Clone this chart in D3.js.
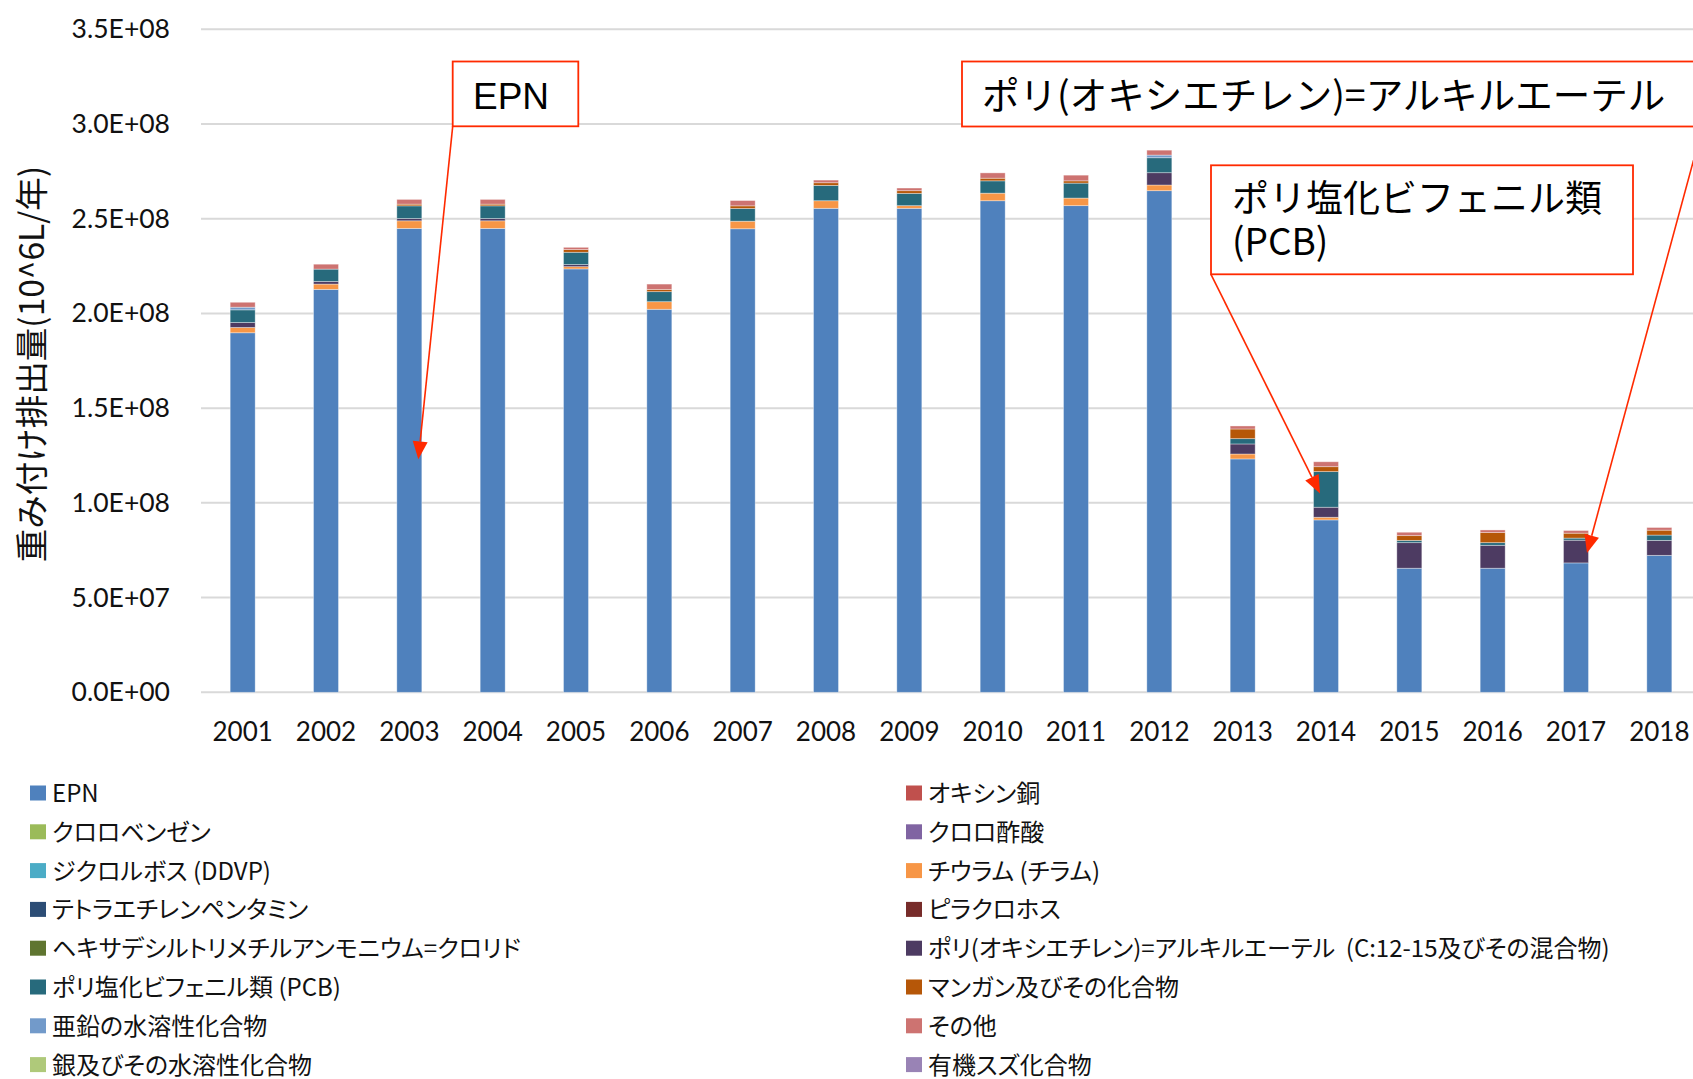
<!DOCTYPE html>
<html><head><meta charset="utf-8">
<script src="https://cdn.jsdelivr.net/npm/d3@7"></script>
<style>
html,body{margin:0;padding:0;background:#fff;overflow:hidden}
svg{display:block}
</style></head><body>
<svg id="chart" width="1693" height="1079"></svg>
<script>
// ---------------- DATA ----------------
const years = [2001,2002,2003,2004,2005,2006,2007,2008,2009,2010,2011,2012,2013,2014,2015,2016,2017,2018];
const tickValues = [0, 5e7, 1e8, 1.5e8, 2e8, 2.5e8, 3e8, 3.5e8];
const tickLabels = ["0.0E+00","5.0E+07","1.0E+08","1.5E+08","2.0E+08","2.5E+08","3.0E+08","3.5E+08"];
const yAxisTitle = "重み付け排出量(10^6L/年)";

const seriesNames = [
  "EPN","オキシン銅","クロロベンゼン","クロロ酢酸","ジクロルボス (DDVP)","チウラム (チラム)",
  "テトラエチレンペンタミン","ピラクロホス","ヘキサデシルトリメチルアンモニウム=クロリド",
  "ポリ(オキシエチレン)=アルキルエーテル  (C:12-15及びその混合物)","ポリ塩化ビフェニル類 (PCB)",
  "マンガン及びその化合物","亜鉛の水溶性化合物","その他","銀及びその水溶性化合物","有機スズ化合物"
];
const seriesColors = [
  "#4F81BD","#C0504D","#9BBB59","#8064A2","#4BACC6","#F79646",
  "#2C4D75","#772C2A","#5F7530","#4D3B62","#276A7C",
  "#B65708","#729ACA","#CD7371","#AFC97A","#9983B5"
];

// values in units of 1E+08 (10^6 L / year)
const epn            = [1.898,2.127,2.449,2.449,2.235,2.022,2.447,2.555,2.555,2.595,2.569,2.648,1.232,0.910,0.655,0.655,0.683,0.723];
const oxineCopper    = [0,0,0,0,0,0,0,0,0,0,0,0,0,0,0,0,0,0];
const chlorobenzene  = [0,0,0,0,0,0,0,0,0,0,0,0,0,0,0,0,0,0];
const chloroacetic   = [0,0,0,0,0,0,0,0,0,0,0,0,0,0,0,0,0,0];
const dichlorvos     = [0,0,0,0,0,0,0,0,0,0,0,0,0,0,0,0,0,0];
const thiuram        = [0.028,0.028,0.040,0.040,0.012,0.040,0.040,0.040,0.014,0.040,0.040,0.030,0.026,0.014,0,0,0,0];
const tetraethylene  = [0,0,0,0,0,0,0,0,0,0,0,0,0,0,0,0,0,0];
const pyraclofos     = [0,0,0,0,0,0,0,0,0,0,0,0,0,0,0,0,0,0];
const hexadecyl      = [0,0,0,0,0,0,0,0,0,0,0,0,0,0,0,0,0,0];
const polyOxyEther   = [0.026,0.014,0.012,0.012,0.011,0,0,0,0,0,0,0.065,0.053,0.053,0.135,0.121,0.120,0.079];
const pcb            = [0.067,0.065,0.067,0.067,0.065,0.053,0.067,0.081,0.065,0.065,0.079,0.079,0.028,0.188,0.012,0.014,0.011,0.028];
const manganese      = [0,0,0.009,0.009,0.014,0.012,0.014,0.014,0.014,0.014,0.012,0,0.051,0.026,0.025,0.053,0.026,0.026];
const zinc           = [0.014,0,0,0,0,0,0,0,0,0,0,0.014,0,0,0,0,0,0];
const others         = [0.026,0.026,0.025,0.025,0.012,0.028,0.028,0.014,0.014,0.028,0.030,0.026,0.016,0.026,0.018,0.014,0.014,0.014];
const silver         = [0,0,0,0,0,0,0,0,0,0,0,0,0,0,0,0,0,0];
const organotin      = [0,0,0,0,0,0,0,0,0,0,0,0,0,0,0,0,0,0];

const seriesValues = [epn,oxineCopper,chlorobenzene,chloroacetic,dichlorvos,thiuram,tetraethylene,
  pyraclofos,hexadecyl,polyOxyEther,pcb,manganese,zinc,others,silver,organotin];

// annotations: label lines, target year and value the arrow points to
const annotations = [
  {lines:["EPN"], year:2003, value:1.23e8, dx:9},
  {lines:["ポリ(オキシエチレン)=アルキルエーテル"], year:2017, value:0.735e8, dx:11},
  {lines:["ポリ塩化ビフェニル類","(PCB)"], year:2014, value:1.05e8, dx:-6}
];

// ---------------- LAYOUT ----------------
const svg = d3.select("#chart");
const plotLeft = 201, plotRight = 1701, plotTop = 29.3, plotBottom = 692.3;

const rows = years.map((yr, i) => {
  const r = {year: yr};
  seriesNames.forEach((n, k) => r[n] = seriesValues[k][i] * 1e8);
  return r;
});
const stacked = d3.stack().keys(seriesNames)(rows);

const x = d3.scaleBand().domain(years).range([plotLeft, plotRight]).paddingInner(0.7).paddingOuter(0.35);
const y = d3.scaleLinear().domain([0, 3.5e8]).range([plotBottom, plotTop]);
const color = d3.scaleOrdinal().domain(seriesNames).range(seriesColors);

// gridlines
svg.append("g").selectAll("line").data(tickValues).join("line")
  .attr("x1", plotLeft).attr("x2", 1693)
  .attr("y1", d => y(d)).attr("y2", d => y(d))
  .attr("stroke", "#d9d9d9").attr("stroke-width", 2);

// y axis labels
const yAxis = svg.append("g").attr("transform", `translate(${plotLeft},0)`)
  .call(d3.axisLeft(y).tickValues(tickValues).tickFormat((d, i) => tickLabels[i]).tickSize(0).tickPadding(31));
yAxis.select(".domain").remove();
yAxis.selectAll("text").attr("font-family", "Lato, 'Open Sans', sans-serif").attr("font-size", 26.5).attr("fill", "#111");

// x axis labels
const xAxis = svg.append("g").attr("transform", `translate(0,${plotBottom})`)
  .call(d3.axisBottom(x).tickSize(0).tickPadding(30));
xAxis.select(".domain").remove();
xAxis.selectAll("text").attr("font-family", "Lato, 'Open Sans', sans-serif").attr("font-size", 26).attr("fill", "#111");

// bars
svg.append("g").selectAll("g").data(stacked).join("g")
  .attr("fill", d => color(d.key))
  .selectAll("rect").data(d => d.filter(s => s[1] - s[0] > 0)).join("rect")
  .attr("x", d => x(d.data.year))
  .attr("width", x.bandwidth())
  .attr("y", d => y(d[1]))
  .attr("height", d => y(d[0]) - y(d[1]))
  .attr("stroke", "#ffffff").attr("stroke-opacity", 0.45).attr("stroke-width", 0.8);

// y axis title
svg.append("text")
  .attr("transform", "translate(44,364) rotate(-90)")
  .attr("text-anchor", "middle")
  .attr("font-family", "'Noto Sans CJK JP', sans-serif")
  .attr("font-size", 33.5).attr("fill", "#111")
  .text(yAxisTitle);

// legend
const legend = svg.append("g");
const legItems = legend.selectAll("g").data(seriesNames).join("g")
  .attr("transform", (d, i) => `translate(${i % 2 === 0 ? 30 : 906},${793 + Math.floor(i / 2) * 38.8})`);
legItems.append("rect").attr("x", 0).attr("y", -7.5).attr("width", 16).attr("height", 15)
  .attr("fill", d => color(d));
legItems.append("text").attr("x", 22).attr("y", -1.5)
  .attr("dominant-baseline", "central")
  .attr("font-family", "'Noto Sans CJK JP', sans-serif")
  .attr("font-size", 24).attr("fill", "#111")
  .style("font-feature-settings", "'palt'")
  .style("white-space", "pre")
  .text(d => d);

// annotations
const red = "#ff2a00";
const boxes = [
  {x:452.7, y:61.5, w:125.6, h:64.8, tx:473, ty:[108.5], font:"'Liberation Sans', Arial, sans-serif", anchor:[452.7,126.3]},
  {x:962, y:61.5, w:760, h:65, tx:982, ty:[108.5], font:"'Noto Sans CJK JP', sans-serif", anchor:[1702.7,126.5]},
  {x:1211, y:165.3, w:422, h:109, tx:1232, ty:[211.5, 255], font:"'Noto Sans CJK JP', sans-serif", anchor:[1211,274.3]}
];
const ann = svg.append("g");
annotations.forEach((a, i) => {
  const b = boxes[i];
  const tipX = x(a.year) + x.bandwidth() / 2 + a.dx, tipY = y(a.value);
  const [sx, sy] = b.anchor;
  const ang = Math.atan2(tipY - sy, tipX - sx);
  const L = 18, W = 7.5;
  const bx = tipX - L * Math.cos(ang), by = tipY - L * Math.sin(ang);
  ann.append("line").attr("x1", sx).attr("y1", sy).attr("x2", bx).attr("y2", by)
    .attr("stroke", red).attr("stroke-width", 1.6);
  ann.append("polygon")
    .attr("points", [[tipX, tipY],
      [bx + W * Math.sin(ang), by - W * Math.cos(ang)],
      [bx - W * Math.sin(ang), by + W * Math.cos(ang)]].map(p => p.join(",")).join(" "))
    .attr("fill", red);
  ann.append("rect").attr("x", b.x).attr("y", b.y).attr("width", b.w).attr("height", b.h)
    .attr("fill", "#fff").attr("stroke", red).attr("stroke-width", 1.8);
  a.lines.forEach((ln, j) => {
    ann.append("text").attr("x", b.tx).attr("y", b.ty[j])
      .attr("font-family", b.font).attr("font-size", i === 1 ? 37.5 : 37).attr("fill", "#000")
      .text(ln);
  });
});
</script>
</body></html>
